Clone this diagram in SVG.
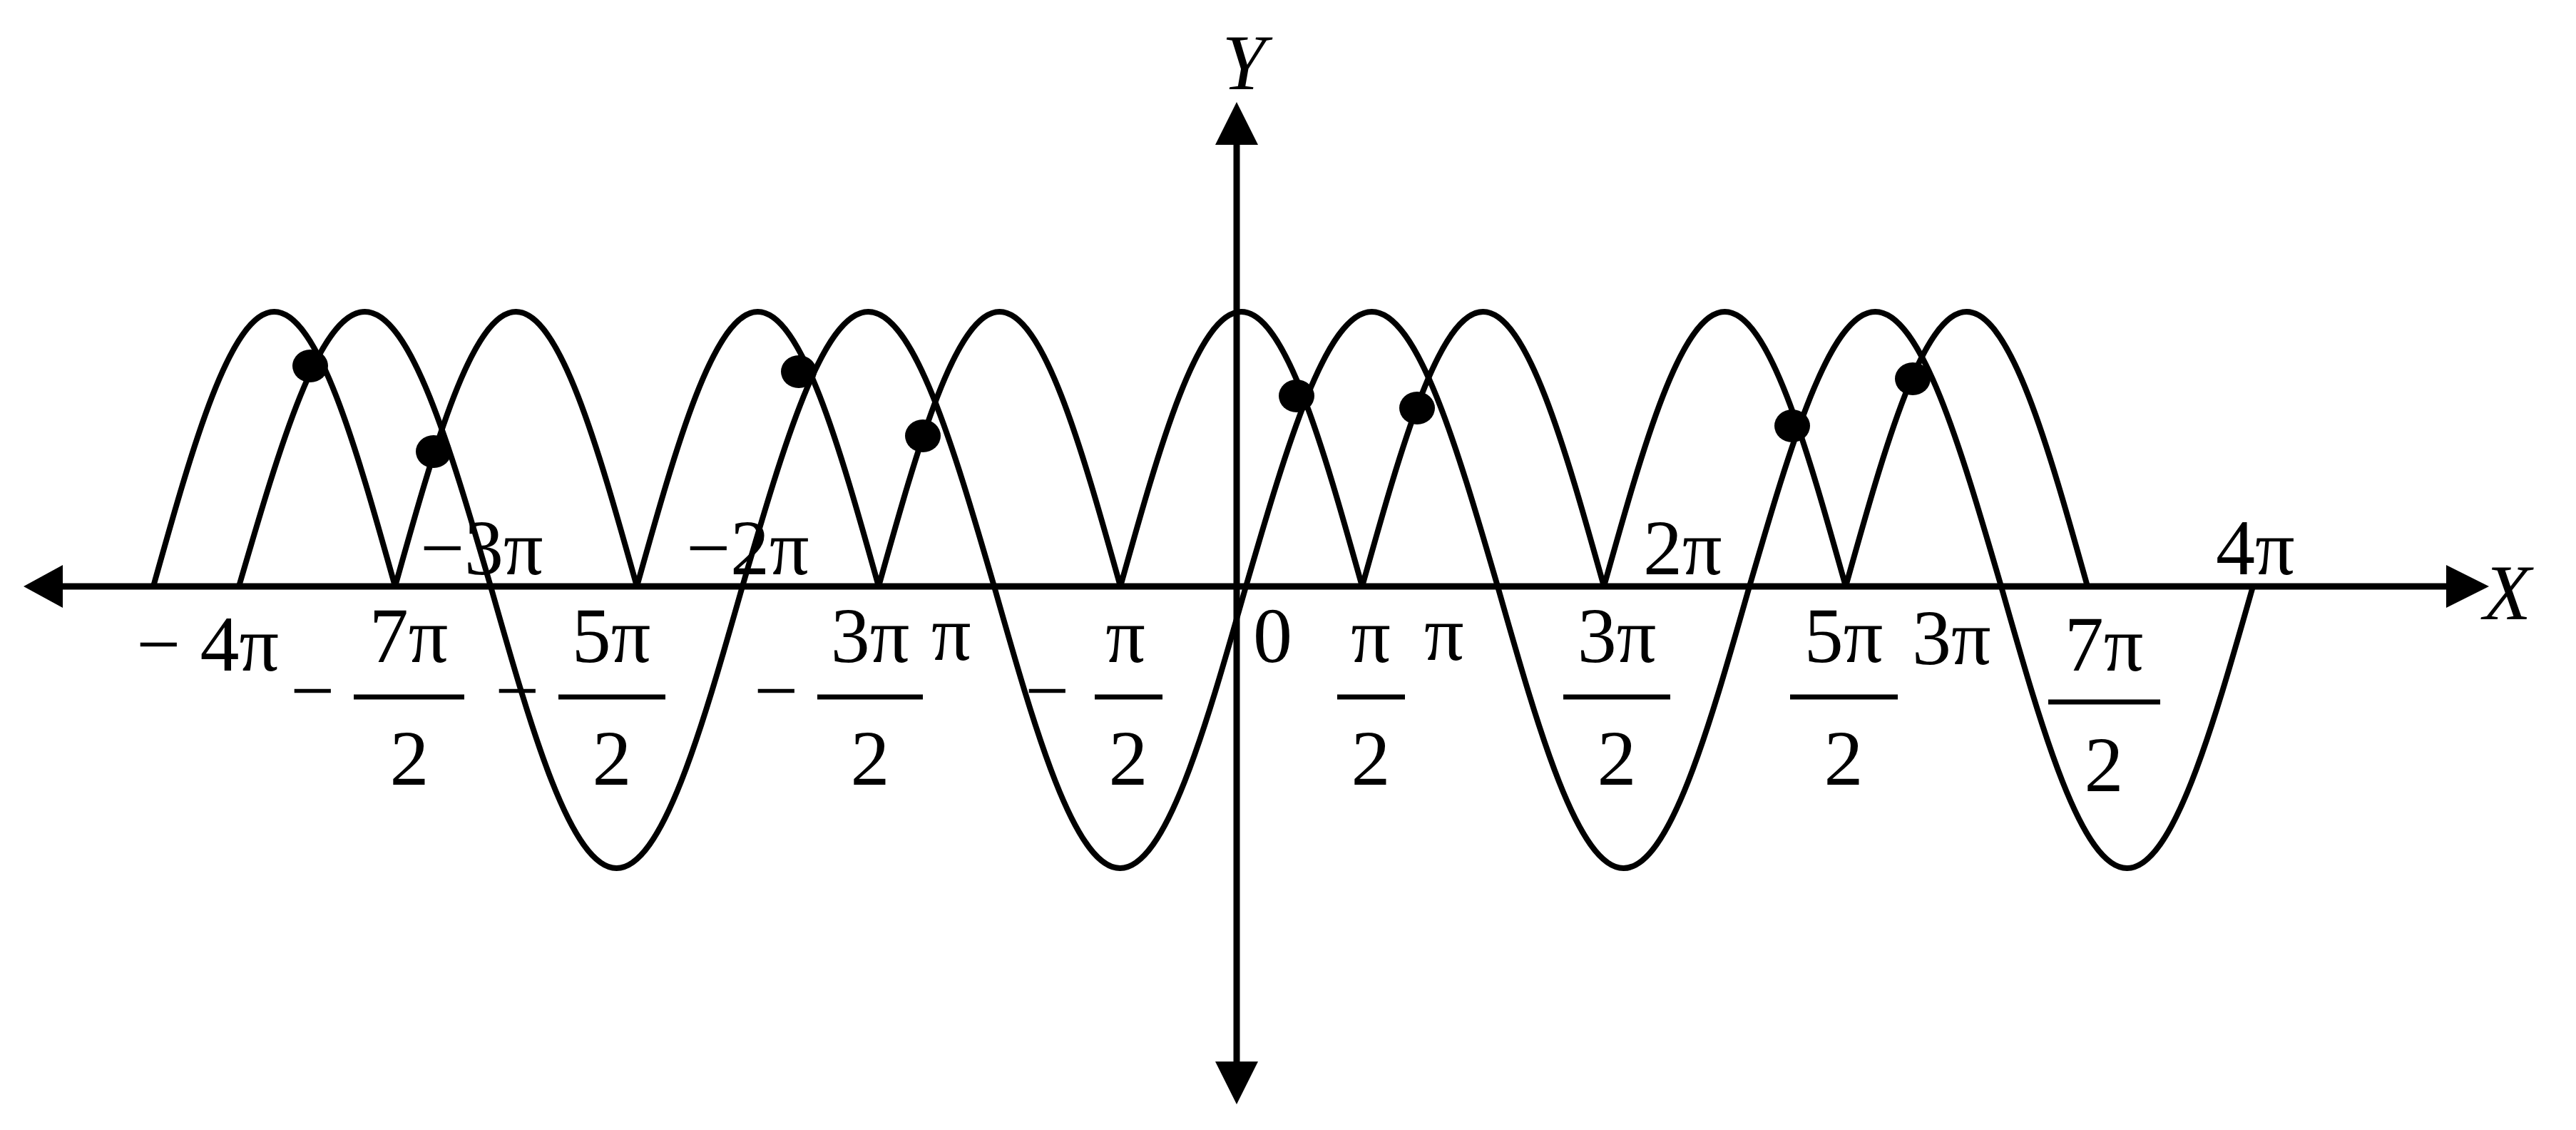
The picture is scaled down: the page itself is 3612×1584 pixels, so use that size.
<svg xmlns="http://www.w3.org/2000/svg" width="3612" height="1584" viewBox="0 0 3612 1584">
<style>
.ax{stroke:#000;stroke-width:9;fill:none}
.cv{stroke:#000;stroke-width:8;fill:none;stroke-linejoin:round}
.bar{stroke:#000;stroke-width:7}
text{font-family:"Liberation Serif","Times New Roman",serif;font-size:110px;fill:#000}
.m{text-anchor:middle}
.it{font-style:italic}
</style>
<rect width="3612" height="1584" fill="#fff"/>
<g id="axes">
<line class="ax" x1="80" y1="822" x2="3440" y2="822"/>
<polygon points="33,822 88,792 88,852"/>
<polygon points="3490,822 3430,792 3430,852"/>
<line class="ax" x1="1734" y1="195" x2="1734" y2="1495"/>
<polygon points="1734,143 1704,203 1764,203"/>
<polygon points="1734,1548 1704,1488 1764,1488"/>
</g>
<g id="connectors">
<path id="curveA" class="cv" d="M215,822
c55.3,-197.2 108.2,-385 169.5,-385 c61.3,0 114.2,187.8 169.5,385
c55.3,-197.2 108.2,-385 169.5,-385 c61.3,0 114.2,187.8 169.5,385
c55.3,-197.2 108.2,-385 169.5,-385 c61.3,0 114.2,187.8 169.5,385
c55.3,-197.2 108.2,-385 169.5,-385 c61.3,0 114.2,187.8 169.5,385
c55.3,-197.2 108.2,-385 169.5,-385 c61.3,0 114.2,187.8 169.5,385
c55.3,-197.2 108.2,-385 169.5,-385 c61.3,0 114.2,187.8 169.5,385
c55.3,-197.2 108.2,-385 169.5,-385 c61.3,0 114.2,187.8 169.5,385
c55.3,-197.2 108.2,-385 169.5,-385 c61.3,0 114.2,187.8 169.5,385"/>
<path id="curveB" class="cv" d="M335,822
c57.6,-197.2 112.6,-385 176.5,-385 c63.9,0 118.9,187.8 176.5,385
c57.6,202.4 112.6,395 176.5,395 c63.9,0 118.9,-192.6 176.5,-395
c57.6,-197.2 112.6,-385 176.5,-385 c63.9,0 118.9,187.8 176.5,385
c57.6,202.4 112.6,395 176.5,395 c63.9,0 118.9,-192.6 176.5,-395
c57.6,-197.2 112.6,-385 176.5,-385 c63.9,0 118.9,187.8 176.5,385
c57.6,202.4 112.6,395 176.5,395 c63.9,0 118.9,-192.6 176.5,-395
c57.6,-197.2 112.6,-385 176.5,-385 c63.9,0 118.9,187.8 176.5,385
c57.6,202.4 112.6,395 176.5,395 c63.9,0 118.9,-192.6 176.5,-395"/>
</g>
<g id="points">
<ellipse cx="435" cy="513" rx="25" ry="23"/>
<ellipse cx="608" cy="633" rx="25" ry="23"/>
<ellipse cx="1120" cy="521" rx="25" ry="23"/>
<ellipse cx="1294" cy="611" rx="25" ry="23"/>
<ellipse cx="1818" cy="555" rx="25" ry="23"/>
<ellipse cx="1987" cy="572" rx="25" ry="23"/>
<ellipse cx="2513" cy="597" rx="25" ry="23"/>
<ellipse cx="2682" cy="531" rx="25" ry="23"/>
</g>
<g id="labels">
<text class="it m" x="1744" y="125">Y</text>
<text class="it" x="3482" y="868">X</text>
<text x="3107" y="805">4π</text>
<text x="2304" y="805">2π</text>
<text x="589" y="805">−3π</text>
<text x="962" y="805">−2π</text>
<text x="191" y="940">− 4π</text>
<text x="1757" y="928">0</text>
<text x="1306" y="925">π</text>
<text x="1997" y="925">π</text>
<text x="2681" y="931">3π</text>
</g>
<g id="fractions">
<text class="m" x="438" y="1005">−</text>
<text class="m" x="573" y="928">7π</text><line class="bar" x1="496" y1="977" x2="651" y2="977"/><text class="m" x="574" y="1100">2</text>
<text class="m" x="725" y="1005">−</text>
<text class="m" x="857" y="928">5π</text><line class="bar" x1="783" y1="977" x2="933" y2="977"/><text class="m" x="858" y="1100">2</text>
<text class="m" x="1088" y="1005">−</text>
<text class="m" x="1220" y="928">3π</text><line class="bar" x1="1146" y1="977" x2="1294" y2="977"/><text class="m" x="1220" y="1100">2</text>
<text class="m" x="1468" y="1005">−</text>
<text class="m" x="1578" y="928">π</text><line class="bar" x1="1535" y1="977" x2="1630" y2="977"/><text class="m" x="1582" y="1100">2</text>
<text class="m" x="1922" y="928">π</text><line class="bar" x1="1875" y1="977" x2="1970" y2="977"/><text class="m" x="1922" y="1100">2</text>
<text class="m" x="2267" y="928">3π</text><line class="bar" x1="2192" y1="977" x2="2342" y2="977"/><text class="m" x="2267" y="1100">2</text>
<text class="m" x="2585" y="928">5π</text><line class="bar" x1="2510" y1="977" x2="2661" y2="977"/><text class="m" x="2585" y="1100">2</text>
<text class="m" x="2950" y="940">7π</text><line class="bar" x1="2872" y1="984" x2="3029" y2="984"/><text class="m" x="2950" y="1109">2</text>
</g>
</svg>
